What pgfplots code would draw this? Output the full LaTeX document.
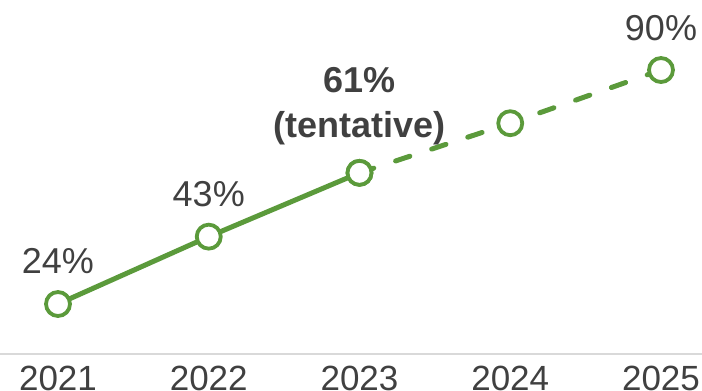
\documentclass[border=0pt]{standalone}
\usepackage{pgfplots}
\pgfplotsset{compat=1.18}
\usepackage{fontspec}
\setmainfont{Liberation Sans}
\definecolor{lg}{HTML}{5B9A3B}
\definecolor{tg}{HTML}{404040}
\begin{document}
\begin{tikzpicture}
\begin{axis}[
 scale only axis, width=351pt, height=177pt,
 xmin=2020.6153, xmax=2025.272, ymin=9.9, ymax=109.75,
 axis x line*=bottom, axis y line=none,
 x axis line style={-, draw=black!15, line width=1pt},
 xtick={2021,2022,2023,2024,2025}, xticklabels={2021,2022,2023,2024,2025},
 ytick=\empty,
 major tick length=0pt,
 xticklabel style={font=\fontsize{17.5}{20}\selectfont, text=tg, anchor=base, yshift=-18.3pt},
 clip=false,
]
\addplot[lg, line width=2.5pt, line cap=round, dash pattern=on 7.5pt off 11.5pt,
  mark=*, mark size=6pt, mark options={fill=white, draw=lg, line width=1.9pt, solid}]
  coordinates {(2023,61)(2024,75)(2025,90)};
\addplot[lg, line width=2.5pt,
  mark=*, mark size=6pt, mark options={fill=white, draw=lg, line width=1.9pt, solid}]
  coordinates {(2021,24)(2022,43)(2023,61)};
\node[anchor=base, text=tg, font=\fontsize{18}{20}\selectfont, yshift=15.5pt] at (axis cs:2021,24) {24\%};
\node[anchor=base, text=tg, font=\fontsize{18}{20}\selectfont, yshift=15pt] at (axis cs:2022,43) {43\%};
\node[anchor=base, text=tg, font=\fontsize{18}{20}\selectfont, yshift=15pt] at (axis cs:2025,90) {90\%};
\node[anchor=south, inner sep=0pt, align=center, text=tg, font=\bfseries\fontsize{18}{22.5}\selectfont, yshift=13.5pt] at (axis cs:2023,61) {61\%\\(tentative)};
\end{axis}
\pgfresetboundingbox
\path[use as bounding box] (current axis.south west) ++(0,-18.5pt) rectangle (current axis.north east);
\end{tikzpicture}
\end{document}
